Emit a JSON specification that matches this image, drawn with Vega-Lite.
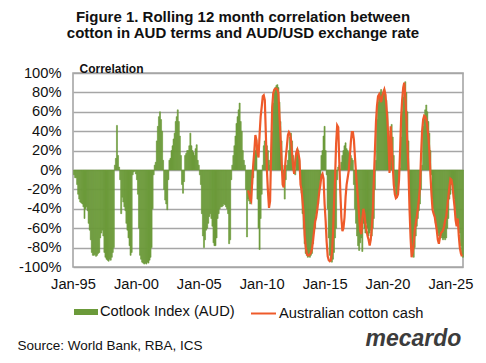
{
"$schema": "https://vega.github.io/schema/vega-lite/v6.json",
"width": 390, "height": 194,
"autosize": {"type": "none"},
"padding": {"left": 73, "top": 73, "right": 23, "bottom": 96},
"background": "white",
"title": {"text": ["Figure 1. Rolling 12 month correlation between", "cotton in AUD terms and AUD/USD exchange rate"], "font": "Liberation Sans", "fontSize": 15, "fontWeight": "bold", "color": "#111111", "anchor": "middle", "frame": "group", "dx": -25, "offset": 21, "lineHeight": 16},
"config": {"view": {"stroke": "#a6a6a6", "strokeWidth": 1.6}},
"data": {"values": [
{"d":"1995-01","c":-0.05},{"d":"1995-02","c":-0.08},{"d":"1995-03","c":-0.08},{"d":"1995-04","c":-0.15},{"d":"1995-05","c":-0.25},{"d":"1995-06","c":-0.3},{"d":"1995-07","c":-0.33},{"d":"1995-08","c":-0.34},{"d":"1995-09","c":-0.35},{"d":"1995-10","c":-0.38},{"d":"1995-11","c":-0.5},{"d":"1995-12","c":-0.4},
{"d":"1996-01","c":-0.38},{"d":"1996-02","c":-0.42},{"d":"1996-03","c":-0.55},{"d":"1996-04","c":-0.62},{"d":"1996-05","c":-0.72},{"d":"1996-06","c":-0.85},{"d":"1996-07","c":-0.88},{"d":"1996-08","c":-0.88},{"d":"1996-09","c":-0.87},{"d":"1996-10","c":-0.89},{"d":"1996-11","c":-0.88},{"d":"1996-12","c":-0.86},
{"d":"1997-01","c":-0.85},{"d":"1997-02","c":-0.7},{"d":"1997-03","c":-0.65},{"d":"1997-04","c":-0.62},{"d":"1997-05","c":-0.68},{"d":"1997-06","c":-0.85},{"d":"1997-07","c":-0.9},{"d":"1997-08","c":-0.92},{"d":"1997-09","c":-0.93},{"d":"1997-10","c":-0.94},{"d":"1997-11","c":-0.92},{"d":"1997-12","c":-0.93},
{"d":"1998-01","c":-0.9},{"d":"1998-02","c":-0.85},{"d":"1998-03","c":-0.8},{"d":"1998-04","c":0.05},{"d":"1998-05","c":0.12},{"d":"1998-06","c":0.46},{"d":"1998-07","c":0.15},{"d":"1998-08","c":0.03},{"d":"1998-09","c":-0.1},{"d":"1998-10","c":-0.45},{"d":"1998-11","c":-0.28},{"d":"1998-12","c":-0.33},
{"d":"1999-01","c":-0.38},{"d":"1999-02","c":-0.42},{"d":"1999-03","c":-0.55},{"d":"1999-04","c":-0.62},{"d":"1999-05","c":-0.7},{"d":"1999-06","c":-0.78},{"d":"1999-07","c":-0.88},{"d":"1999-08","c":-0.85},{"d":"1999-09","c":-0.05},{"d":"1999-10","c":-0.02},{"d":"1999-11","c":-0.01},{"d":"1999-12","c":-0.04},
{"d":"2000-01","c":-0.1},{"d":"2000-02","c":-0.25},{"d":"2000-03","c":-0.6},{"d":"2000-04","c":-0.88},{"d":"2000-05","c":-0.92},{"d":"2000-06","c":-0.95},{"d":"2000-07","c":-0.96},{"d":"2000-08","c":-0.97},{"d":"2000-09","c":-0.96},{"d":"2000-10","c":-0.97},{"d":"2000-11","c":-0.95},{"d":"2000-12","c":-0.96},
{"d":"2001-01","c":-0.93},{"d":"2001-02","c":-0.9},{"d":"2001-03","c":-0.8},{"d":"2001-04","c":-0.4},{"d":"2001-05","c":-0.05},{"d":"2001-06","c":0.05},{"d":"2001-07","c":0.08},{"d":"2001-08","c":0.3},{"d":"2001-09","c":0.45},{"d":"2001-10","c":0.55},{"d":"2001-11","c":0.6},{"d":"2001-12","c":0.52},
{"d":"2002-01","c":0.4},{"d":"2002-02","c":0.1},{"d":"2002-03","c":-0.2},{"d":"2002-04","c":-0.31},{"d":"2002-05","c":-0.35},{"d":"2002-06","c":-0.41},{"d":"2002-07","c":-0.1},{"d":"2002-08","c":0.1},{"d":"2002-09","c":0.12},{"d":"2002-10","c":0.2},{"d":"2002-11","c":0.25},{"d":"2002-12","c":0.32},
{"d":"2003-01","c":0.38},{"d":"2003-02","c":0.5},{"d":"2003-03","c":0.55},{"d":"2003-04","c":0.62},{"d":"2003-05","c":0.5},{"d":"2003-06","c":0.35},{"d":"2003-07","c":0.15},{"d":"2003-08","c":-0.15},{"d":"2003-09","c":-0.24},{"d":"2003-10","c":-0.12},{"d":"2003-11","c":0.15},{"d":"2003-12","c":0.17},
{"d":"2004-01","c":0.2},{"d":"2004-02","c":0.2},{"d":"2004-03","c":0.25},{"d":"2004-04","c":0.38},{"d":"2004-05","c":0.25},{"d":"2004-06","c":0.2},{"d":"2004-07","c":0.18},{"d":"2004-08","c":0.15},{"d":"2004-09","c":0.22},{"d":"2004-10","c":0.26},{"d":"2004-11","c":0.1},{"d":"2004-12","c":0.05},
{"d":"2005-01","c":-0.05},{"d":"2005-02","c":-0.15},{"d":"2005-03","c":-0.45},{"d":"2005-04","c":-0.68},{"d":"2005-05","c":-0.8},{"d":"2005-06","c":-0.72},{"d":"2005-07","c":-0.62},{"d":"2005-08","c":-0.6},{"d":"2005-09","c":-0.55},{"d":"2005-10","c":-0.48},{"d":"2005-11","c":-0.45},{"d":"2005-12","c":-0.5},
{"d":"2006-01","c":-0.58},{"d":"2006-02","c":-0.75},{"d":"2006-03","c":-0.78},{"d":"2006-04","c":-0.78},{"d":"2006-05","c":-0.7},{"d":"2006-06","c":-0.5},{"d":"2006-07","c":-0.45},{"d":"2006-08","c":-0.4},{"d":"2006-09","c":-0.38},{"d":"2006-10","c":-0.38},{"d":"2006-11","c":-0.37},{"d":"2006-12","c":-0.35},
{"d":"2007-01","c":-0.36},{"d":"2007-02","c":-0.38},{"d":"2007-03","c":-0.4},{"d":"2007-04","c":-0.45},{"d":"2007-05","c":-0.76},{"d":"2007-06","c":-0.72},{"d":"2007-07","c":-0.1},{"d":"2007-08","c":0.05},{"d":"2007-09","c":0.15},{"d":"2007-10","c":0.25},{"d":"2007-11","c":0.35},{"d":"2007-12","c":0.48},
{"d":"2008-01","c":0.55},{"d":"2008-02","c":0.62},{"d":"2008-03","c":0.69},{"d":"2008-04","c":0.5},{"d":"2008-05","c":0.4},{"d":"2008-06","c":0.2},{"d":"2008-07","c":0.1},{"d":"2008-08","c":0.05},{"d":"2008-09","c":-0.2},{"d":"2008-10","c":-0.69},{"d":"2008-11","c":-0.3},{"d":"2008-12","c":-0.32,"a":-0.21},
{"d":"2009-01","c":-0.35,"a":-0.25},{"d":"2009-02","c":-0.3,"a":-0.3},{"d":"2009-03","c":-0.15,"a":-0.32},{"d":"2009-04","c":-0.08,"a":-0.11},{"d":"2009-05","c":0.15,"a":0.06},{"d":"2009-06","c":0.2,"a":0.2},{"d":"2009-07","c":0.31,"a":0.36},{"d":"2009-08","c":-0.3,"a":0.31},{"d":"2009-09","c":-0.6,"a":0.17},{"d":"2009-10","c":-0.82,"a":0.13},{"d":"2009-11","c":-0.5,"a":0.37},{"d":"2009-12","c":-0.25,"a":0.55},
{"d":"2010-01","c":0.05,"a":0.65},{"d":"2010-02","c":0.25,"a":0.76},{"d":"2010-03","c":0.3,"a":0.77},{"d":"2010-04","c":0.2,"a":0.72},{"d":"2010-05","c":0.25,"a":0.37},{"d":"2010-06","c":0.2,"a":0.0},{"d":"2010-07","c":0.1,"a":-0.22},{"d":"2010-08","c":0.05,"a":-0.39},{"d":"2010-09","c":0.15,"a":-0.32},{"d":"2010-10","c":0.4,"a":0.17},{"d":"2010-11","c":0.69,"a":0.65},{"d":"2010-12","c":0.8,"a":0.79},
{"d":"2011-01","c":0.85,"a":0.83},{"d":"2011-02","c":0.87,"a":0.84},{"d":"2011-03","c":0.88,"a":0.84},{"d":"2011-04","c":0.85,"a":0.83},{"d":"2011-05","c":0.7,"a":0.79},{"d":"2011-06","c":0.5,"a":0.55},{"d":"2011-07","c":0.3,"a":0.34},{"d":"2011-08","c":0.05,"a":0.1},{"d":"2011-09","c":-0.15,"a":-0.15},{"d":"2011-10","c":-0.3,"a":-0.18},{"d":"2011-11","c":-0.1,"a":-0.01},{"d":"2011-12","c":0.05,"a":0.13},
{"d":"2012-01","c":0.1,"a":0.24},{"d":"2012-02","c":0.2,"a":0.36},{"d":"2012-03","c":0.34,"a":0.39},{"d":"2012-04","c":0.38,"a":0.37},{"d":"2012-05","c":0.3,"a":0.31},{"d":"2012-06","c":0.15,"a":0.17},{"d":"2012-07","c":0.05,"a":0.03},{"d":"2012-08","c":-0.05,"a":-0.04},{"d":"2012-09","c":0.17,"a":0.1},{"d":"2012-10","c":0.22,"a":0.18},{"d":"2012-11","c":0.2,"a":0.21},{"d":"2012-12","c":0.1,"a":0.17},
{"d":"2013-01","c":-0.1,"a":0.11},{"d":"2013-02","c":-0.24,"a":-0.15},{"d":"2013-03","c":-0.45,"a":-0.2},{"d":"2013-04","c":-0.6,"a":-0.32},{"d":"2013-05","c":-0.76,"a":-0.44},{"d":"2013-06","c":-0.86,"a":-0.67},{"d":"2013-07","c":-0.88,"a":-0.79},{"d":"2013-08","c":-0.9,"a":-0.86},{"d":"2013-09","c":-0.89,"a":-0.88},{"d":"2013-10","c":-0.9,"a":-0.88},{"d":"2013-11","c":-0.88,"a":-0.87},{"d":"2013-12","c":-0.86,"a":-0.85},
{"d":"2014-01","c":-0.76,"a":-0.81},{"d":"2014-02","c":-0.65,"a":-0.72},{"d":"2014-03","c":-0.6,"a":-0.63},{"d":"2014-04","c":-0.45,"a":-0.53},{"d":"2014-05","c":-0.4,"a":-0.49},{"d":"2014-06","c":-0.35,"a":-0.41},{"d":"2014-07","c":-0.2,"a":-0.32},{"d":"2014-08","c":-0.1,"a":-0.22},{"d":"2014-09","c":0.15,"a":-0.15},{"d":"2014-10","c":0.2,"a":-0.06},{"d":"2014-11","c":0.35,"a":-0.04},{"d":"2014-12","c":0.45,"a":-0.09},
{"d":"2015-01","c":0.2,"a":-0.35},{"d":"2015-02","c":-0.05,"a":-0.53},{"d":"2015-03","c":-0.4,"a":-0.74},{"d":"2015-04","c":-0.7,"a":-0.89},{"d":"2015-05","c":-0.88,"a":-0.93},{"d":"2015-06","c":-0.93,"a":-0.94},{"d":"2015-07","c":-0.95,"a":-0.93},{"d":"2015-08","c":-0.92,"a":-0.86},{"d":"2015-09","c":-0.85,"a":-0.67},{"d":"2015-10","c":-0.7,"a":-0.35},{"d":"2015-11","c":-0.6,"a":-0.08},{"d":"2015-12","c":-0.1,"a":0.27},
{"d":"2016-01","c":0.03,"a":0.46},{"d":"2016-02","c":0.05,"a":0.44},{"d":"2016-03","c":0.01,"a":0.1},{"d":"2016-04","c":0.08,"a":-0.22},{"d":"2016-05","c":0.15,"a":-0.49},{"d":"2016-06","c":0.2,"a":-0.63},{"d":"2016-07","c":0.25,"a":-0.6},{"d":"2016-08","c":0.28,"a":-0.49},{"d":"2016-09","c":0.22,"a":-0.28},{"d":"2016-10","c":0.2,"a":-0.15},{"d":"2016-11","c":0.18,"a":-0.08},{"d":"2016-12","c":0.15,"a":-0.01},
{"d":"2017-01","c":0.15,"a":0.13},{"d":"2017-02","c":0.12,"a":0.29},{"d":"2017-03","c":0.1,"a":0.39},{"d":"2017-04","c":-0.15,"a":0.39},{"d":"2017-05","c":-0.4,"a":0.31},{"d":"2017-06","c":-0.55,"a":0.13},{"d":"2017-07","c":-0.68,"a":-0.04},{"d":"2017-08","c":-0.78,"a":-0.18},{"d":"2017-09","c":-0.83,"a":-0.32},{"d":"2017-10","c":-0.75,"a":-0.49},{"d":"2017-11","c":-0.7,"a":-0.63},{"d":"2017-12","c":-0.84,"a":-0.66},
{"d":"2018-01","c":-0.55,"a":-0.5},{"d":"2018-02","c":-0.6,"a":-0.4},{"d":"2018-03","c":-0.65,"a":-0.45},{"d":"2018-04","c":-0.55,"a":-0.55},{"d":"2018-05","c":-0.6,"a":-0.62},{"d":"2018-06","c":-0.68,"a":-0.68},{"d":"2018-07","c":-0.65,"a":-0.72},{"d":"2018-08","c":-0.62,"a":-0.78},{"d":"2018-09","c":-0.68,"a":-0.72},{"d":"2018-10","c":-0.6,"a":-0.6},{"d":"2018-11","c":-0.5,"a":-0.42},{"d":"2018-12","c":-0.2,"a":-0.1},
{"d":"2019-01","c":0.1,"a":0.2},{"d":"2019-02","c":0.52,"a":0.5},{"d":"2019-03","c":0.7,"a":0.66},{"d":"2019-04","c":0.76,"a":0.76},{"d":"2019-05","c":0.8,"a":0.78},{"d":"2019-06","c":0.83,"a":0.74},{"d":"2019-07","c":0.78,"a":0.7},{"d":"2019-08","c":0.8,"a":0.76},{"d":"2019-09","c":0.83,"a":0.8},{"d":"2019-10","c":0.78,"a":0.83},{"d":"2019-11","c":0.72,"a":0.78},{"d":"2019-12","c":0.6,"a":0.65},
{"d":"2020-01","c":0.4,"a":0.5},{"d":"2020-02","c":0.3,"a":0.25},{"d":"2020-03","c":0.2,"a":-0.03},{"d":"2020-04","c":0.47,"a":0.45},{"d":"2020-05","c":0.34,"a":0.25},{"d":"2020-06","c":0.15,"a":0.05},{"d":"2020-07","c":-0.17,"a":-0.15},{"d":"2020-08","c":-0.25,"a":-0.25},{"d":"2020-09","c":-0.28,"a":-0.29},{"d":"2020-10","c":-0.2,"a":-0.28},{"d":"2020-11","c":-0.05,"a":-0.25},{"d":"2020-12","c":0.02,"a":-0.1},
{"d":"2021-01","c":0.34,"a":0.2},{"d":"2021-02","c":0.6,"a":0.55},{"d":"2021-03","c":0.75,"a":0.72},{"d":"2021-04","c":0.88,"a":0.85},{"d":"2021-05","c":0.91,"a":0.9},{"d":"2021-06","c":0.8,"a":0.75},{"d":"2021-07","c":0.6,"a":0.55},{"d":"2021-08","c":0.3,"a":0.25},{"d":"2021-09","c":-0.2,"a":0.0},{"d":"2021-10","c":-0.5,"a":-0.4},{"d":"2021-11","c":-0.75,"a":-0.7},{"d":"2021-12","c":-0.88,"a":-0.9},
{"d":"2022-01","c":-0.9,"a":-0.85},{"d":"2022-02","c":-0.8,"a":-0.75},{"d":"2022-03","c":-0.68,"a":-0.62},{"d":"2022-04","c":-0.58,"a":-0.55},{"d":"2022-05","c":-0.5,"a":-0.48},{"d":"2022-06","c":-0.42,"a":-0.4},{"d":"2022-07","c":-0.35,"a":-0.3},{"d":"2022-08","c":-0.2,"a":-0.17},{"d":"2022-09","c":0.05,"a":0.15},{"d":"2022-10","c":0.45,"a":0.4},{"d":"2022-11","c":0.55,"a":0.52},{"d":"2022-12","c":0.62,"a":0.56},
{"d":"2023-01","c":0.67,"a":0.55},{"d":"2023-02","c":0.6,"a":0.52},{"d":"2023-03","c":0.5,"a":0.45},{"d":"2023-04","c":0.38,"a":0.35},{"d":"2023-05","c":0.2,"a":0.2},{"d":"2023-06","c":-0.05,"a":-0.05},{"d":"2023-07","c":-0.3,"a":-0.25},{"d":"2023-08","c":-0.4,"a":-0.41},{"d":"2023-09","c":-0.48,"a":-0.45},{"d":"2023-10","c":-0.55,"a":-0.48},{"d":"2023-11","c":-0.6,"a":-0.55},{"d":"2023-12","c":-0.65,"a":-0.62},
{"d":"2024-01","c":-0.68,"a":-0.72},{"d":"2024-02","c":-0.7,"a":-0.76},{"d":"2024-03","c":-0.68,"a":-0.7},{"d":"2024-04","c":-0.7,"a":-0.65},{"d":"2024-05","c":-0.72,"a":-0.64},{"d":"2024-06","c":-0.7,"a":-0.62},{"d":"2024-07","c":-0.72,"a":-0.58},{"d":"2024-08","c":-0.7,"a":-0.52},{"d":"2024-09","c":-0.6,"a":-0.48},{"d":"2024-10","c":-0.5,"a":-0.38},{"d":"2024-11","c":-0.3,"a":-0.28},{"d":"2024-12","c":-0.25,"a":-0.18},
{"d":"2025-01","c":-0.15,"a":-0.09},{"d":"2025-02","c":-0.14,"a":-0.1},{"d":"2025-03","c":-0.2,"a":-0.16},{"d":"2025-04","c":-0.3,"a":-0.28},{"d":"2025-05","c":-0.4,"a":-0.38},{"d":"2025-06","c":-0.5,"a":-0.52},{"d":"2025-07","c":-0.55,"a":-0.58},{"d":"2025-08","c":-0.55,"a":-0.5},{"d":"2025-09","c":-0.65,"a":-0.68},{"d":"2025-10","c":-0.78,"a":-0.8},{"d":"2025-11","c":-0.88,"a":-0.86},{"d":"2025-12","c":-0.9,"a":-0.89}
]},
"encoding": {
  "x": {"field": "d", "timeUnit": "utcyearmonth", "type": "temporal",
    "scale": {"domain": [{"year": 1995, "month": 1, "date": 1, "utc": true}, {"year": 2026, "month": 1, "date": 1, "utc": true}]},
    "axis": {"values": [{"year": 1995, "month": 1, "date": 1, "utc": true}, {"year": 2000, "month": 1, "date": 1, "utc": true}, {"year": 2005, "month": 1, "date": 1, "utc": true}, {"year": 2010, "month": 1, "date": 1, "utc": true}, {"year": 2015, "month": 1, "date": 1, "utc": true}, {"year": 2020, "month": 1, "date": 1, "utc": true}, {"year": 2025, "month": 1, "date": 1, "utc": true}],
      "format": "%b-%y", "grid": false, "domain": false, "ticks": false, "labelPadding": 9, "labelFlush": false, "labelOverlap": false,
      "labelFont": "Liberation Sans", "labelFontSize": 14.7, "labelColor": "#111111",
      "title": "Source: World Bank, RBA, ICS", "titleFont": "Liberation Sans", "titleFontSize": 13.5, "titleFontWeight": "normal", "titleColor": "#111111",
      "titleAlign": "left", "titleAnchor": "start", "titleBaseline": "alphabetic", "titleX": -56, "titleY": 82.5}}
},
"layer": [
  {"mark": {"type": "bar", "binSpacing": 0, "stroke": "#6b9a3a", "strokeWidth": 0.6},
   "encoding": {
     "y": {"field": "c", "type": "quantitative", "scale": {"domain": [-1, 1]},
       "axis": {"values": [-1, -0.8, -0.6, -0.4, -0.2, 0, 0.2, 0.4, 0.6, 0.8, 1],
         "labelExpr": "(datum.value < 0 ? '-' : '') + format(abs(datum.value), '.0%')",
         "grid": true, "gridColor": "#a6a6a6", "gridWidth": 1.6, "domain": false, "ticks": false, "labelPadding": 12,
         "labelFont": "Liberation Sans", "labelFontSize": 14.7, "labelColor": "#111111",
         "title": "Correlation", "titleAngle": 0, "titleAlign": "left", "titleBaseline": "alphabetic", "titleX": 6, "titleY": -1,
         "titleFont": "Liberation Sans", "titleFontSize": 12, "titleFontWeight": "bold", "titleColor": "#111111"}},
     "fill": {"datum": "Cotlook Index (AUD)", "type": "nominal", "scale": {"range": ["#6b9a3a"]},
       "legend": {"title": null, "orient": "none", "legendX": 1, "legendY": 227, "padding": 0,
         "symbolType": "M-1,-0.25H1V0.25H-1Z", "symbolSize": 576, "symbolStrokeWidth": 0, "labelOffset": 2,
         "labelFont": "Liberation Sans", "labelFontSize": 14.7, "labelColor": "#111111"}}
   }},
  {"mark": {"type": "line", "strokeWidth": 2.2, "timeUnitBandPosition": 0.5},
   "encoding": {
     "y": {"field": "a", "type": "quantitative", "scale": {"domain": [-1, 1]},
       "axis": {"orient": "right", "labels": false, "ticks": false, "domain": false, "grid": false,
         "title": "mecardo", "titleAngle": 0, "titleAlign": "left", "titleBaseline": "alphabetic", "titleX": -98, "titleY": 272,
         "titleFont": "Liberation Sans", "titleFontSize": 23, "titleFontStyle": "italic", "titleFontWeight": "bold", "titleColor": "#3c3c3c"}},
     "stroke": {"datum": "Australian cotton cash", "type": "nominal", "scale": {"range": ["#ee5a2a"]},
       "legend": {"title": null, "orient": "none", "legendX": 177, "legendY": 227, "padding": 0,
         "symbolType": "stroke", "symbolSize": 625, "symbolStrokeWidth": 2, "labelOffset": 2,
         "labelFont": "Liberation Sans", "labelFontSize": 14.7, "labelColor": "#111111"}}
   }}
],
"resolve": {"axis": {"y": "independent"}}
}
